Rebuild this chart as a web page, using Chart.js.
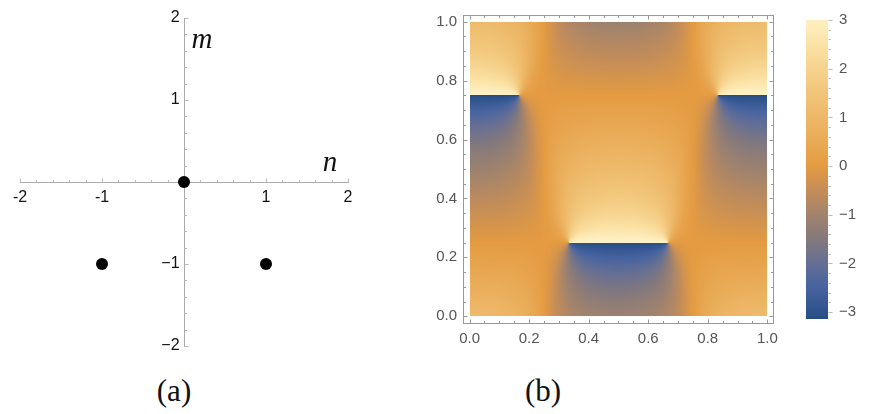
<!DOCTYPE html>
<html>
<head>
<meta charset="utf-8">
<script src="https://cdn.jsdelivr.net/npm/chart.js@4.4.0/dist/chart.umd.min.js"></script>
<style>
  html, body { margin: 0; padding: 0; background: #fff; width: 872px; height: 414px; overflow: hidden; }
  .box { position: absolute; }
  .cap { position: absolute; font-family: "Liberation Serif", serif; font-size: 31px; line-height: 31px; color: #111; transform: translateX(-50%); }
</style>
</head>
<body>
<div class="box" style="left:0;top:0;width:370px;height:360px"><canvas id="lattice"></canvas></div>
<div class="box" style="left:400px;top:0;width:400px;height:360px"><canvas id="phase"></canvas></div>
<div class="box" style="left:790px;top:0;width:82px;height:360px"><canvas id="legend"></canvas></div>
<div class="cap" style="left:174px;top:375px">(a)</div>
<div class="cap" style="left:543px;top:375px">(b)</div>
<script>
// panel (a): lattice points (n, m)
const N_VALUES = [0, -1, 1]
const M_VALUES = [0, -1, -1]
// complex weight of each point (real / imaginary part)
const WEIGHT_RE = [1, 0, 0]
const WEIGHT_IM = [0, 1, 1]

const AXIS_TICKS = [-2, -1, 1, 2]
const N_TICK_LABELS = ['-2', '-1', '1', '2']
const M_TICK_LABELS = ['\u22122', '\u22121', '1', '2']

// panel (b): unit cell axes and phase legend
const UNIT_TICKS = [0, 0.2, 0.4, 0.6, 0.8, 1]
const UNIT_TICK_LABELS = ['0.0', '0.2', '0.4', '0.6', '0.8', '1.0']
const PHASE_TICKS = [-3, -2, -1, 0, 1, 2, 3]
const PHASE_TICK_LABELS = ['\u22123', '\u22122', '\u22121', '0', '1', '2', '3']
const PHASE_MIN = -3.14
const PHASE_MAX = 3.0

// colour gradient (phase value -> rgb)
const STOP_VALUES = [-3.14, -3, -2.5, -2, -1.5, -1, -0.5, 0, 0.5, 1, 1.5, 2, 2.5, 3, 3.14]
const STOP_COLORS = [
  [40, 76, 130], [46, 82, 140], [70, 99, 160], [101, 111, 148], [133, 121, 124],
  [162, 131, 108], [196, 141, 88], [228, 155, 65], [233, 170, 86], [237, 184, 104],
  [241, 197, 121], [246, 211, 142], [251, 226, 166], [255, 240, 194], [255, 243, 200]
]

const TICK_FONT = { family: 'Liberation Sans', size: 16 }

function colorFor(v) {
  if (v <= STOP_VALUES[0]) return STOP_COLORS[0]
  for (let i = 1; i < STOP_VALUES.length; i++) {
    if (v <= STOP_VALUES[i]) {
      const t = (v - STOP_VALUES[i - 1]) / (STOP_VALUES[i] - STOP_VALUES[i - 1])
      const a = STOP_COLORS[i - 1], b = STOP_COLORS[i]
      return [a[0] + (b[0] - a[0]) * t, a[1] + (b[1] - a[1]) * t, a[2] + (b[2] - a[2]) * t]
    }
  }
  return STOP_COLORS[STOP_COLORS.length - 1]
}

// phase of the sum of plane waves of the lattice points
function phaseAt(x, y) {
  let re = 0, im = 0
  for (let k = 0; k < N_VALUES.length; k++) {
    const a = 2 * Math.PI * (N_VALUES[k] * x + M_VALUES[k] * y)
    const c = Math.cos(a), s = Math.sin(a)
    re += WEIGHT_RE[k] * c - WEIGHT_IM[k] * s
    im += WEIGHT_RE[k] * s + WEIGHT_IM[k] * c
  }
  return Math.atan2(im, re)
}

// small tick marks along a line: at = pixel of the line, dir = side
function tickMarks(ctx, scale, o) {
  ctx.save()
  ctx.strokeStyle = o.color
  ctx.lineWidth = 1
  ctx.beginPath()
  const k0 = Math.ceil(o.from / o.step - 1e-6), k1 = Math.floor(o.to / o.step + 1e-6)
  for (let k = k0; k <= k1; k++) {
    const v = k * o.step
    if (o.skip && o.skip.some(s => Math.abs(s - v) < 1e-6)) continue
    const major = o.major.some(m => Math.abs(m - v) < 1e-6)
    const len = major ? o.majorLen : o.minorLen
    const p = Math.round(scale.getPixelForValue(v)) + 0.5
    if (scale.isHorizontal()) {
      ctx.moveTo(p, o.at); ctx.lineTo(p, o.at + o.dir * len)
    } else {
      ctx.moveTo(o.at, p); ctx.lineTo(o.at + o.dir * len, p)
    }
  }
  ctx.stroke()
  ctx.restore()
}

// ---------- panel (a) ----------
const latticeTicks = {
  id: 'latticeTicks',
  afterDraw(chart) {
    const { ctx } = chart
    const xs = chart.scales.x, ys = chart.scales.y
    const ax = Math.round(ys.getPixelForValue(0)) + 0.5
    const ay = Math.round(xs.getPixelForValue(0)) + 0.5
    const o = { from: -2, to: 2, step: 0.2, major: AXIS_TICKS, skip: [0], majorLen: 4, minorLen: 2.5, color: '#bbb' }
    tickMarks(ctx, xs, { ...o, at: ax, dir: -1 })
    tickMarks(ctx, ys, { ...o, at: ay, dir: 1 })
    ctx.save()
    ctx.fillStyle = '#111'
    ctx.font = 'italic 29px "Liberation Serif"'
    ctx.textBaseline = 'alphabetic'
    ctx.textAlign = 'center'
    ctx.fillText('n', xs.getPixelForValue(1.78), ys.getPixelForValue(0.14))
    ctx.textAlign = 'left'
    ctx.fillText('m', xs.getPixelForValue(0.09), ys.getPixelForValue(1.63))
    ctx.restore()
  }
}

new Chart(document.getElementById('lattice'), {
  type: 'scatter',
  data: {
    datasets: [{
      data: N_VALUES.map((n, i) => ({ x: n, y: M_VALUES[i] })),
      backgroundColor: '#000',
      borderWidth: 0,
      pointRadius: 6,
      pointHoverRadius: 6
    }]
  },
  plugins: [latticeTicks],
  options: {
    animation: false,
    responsive: true,
    maintainAspectRatio: false,
    events: [],
    layout: { padding: { left: 20, top: 18, right: 22, bottom: 14 } },
    plugins: { legend: { display: false }, tooltip: { enabled: false } },
    scales: {
      x: {
        type: 'linear', min: -2, max: 2,
        position: { y: 0 },
        afterFit: s => { s.height = 0 },
        afterBuildTicks: s => { s.ticks = AXIS_TICKS.map(v => ({ value: v })) },
        grid: { drawOnChartArea: false, drawTicks: false },
        border: { color: '#aaa' },
        ticks: { callback: (v, i) => N_TICK_LABELS[i], padding: 6, font: TICK_FONT, color: '#111', maxRotation: 0, autoSkip: false }
      },
      y: {
        type: 'linear', min: -2, max: 2,
        position: { x: 0 },
        afterFit: s => { s.width = 0 },
        afterBuildTicks: s => { s.ticks = AXIS_TICKS.map(v => ({ value: v })) },
        grid: { drawOnChartArea: false, drawTicks: false },
        border: { color: '#aaa' },
        // a centred axis ignores ticks.padding, so keep a space after the label
        ticks: { callback: (v, i) => M_TICK_LABELS[i] + ' ', font: TICK_FONT, color: '#111', autoSkip: false }
      }
    }
  }
})

// ---------- panel (b) ----------
const phaseField = {
  id: 'phaseField',
  beforeDatasetsDraw(chart) {
    const { ctx } = chart
    const xs = chart.scales.x, ys = chart.scales.y
    const x0 = Math.round(xs.getPixelForValue(0)), x1 = Math.round(xs.getPixelForValue(1))
    const y0 = Math.round(ys.getPixelForValue(1)), y1 = Math.round(ys.getPixelForValue(0))
    const w = x1 - x0, h = y1 - y0
    const off = document.createElement('canvas')
    off.width = w; off.height = h
    const octx = off.getContext('2d')
    const img = octx.createImageData(w, h)
    for (let py = 0; py < h; py++) {
      const vy = ys.getValueForPixel(y0 + py + 0.5)
      for (let px = 0; px < w; px++) {
        const vx = xs.getValueForPixel(x0 + px + 0.5)
        const c = colorFor(phaseAt(vx, vy))
        const j = (py * w + px) * 4
        img.data[j] = c[0]; img.data[j + 1] = c[1]; img.data[j + 2] = c[2]; img.data[j + 3] = 255
      }
    }
    octx.putImageData(img, 0, 0)
    ctx.drawImage(off, x0, y0)
  },
  afterDraw(chart) {
    const { ctx, chartArea: a } = chart
    const xs = chart.scales.x, ys = chart.scales.y
    ctx.save()
    ctx.strokeStyle = '#999'
    ctx.lineWidth = 1
    ctx.strokeRect(Math.round(a.left) + 0.5, Math.round(a.top) + 0.5, Math.round(a.right - a.left), Math.round(a.bottom - a.top))
    ctx.restore()
    const o = { from: 0, to: 1, step: 0.05, major: UNIT_TICKS, majorLen: 4, minorLen: 2.5, color: '#999' }
    tickMarks(ctx, xs, { ...o, at: Math.round(a.bottom) + 0.5, dir: -1 })
    tickMarks(ctx, xs, { ...o, at: Math.round(a.top) + 0.5, dir: 1 })
    tickMarks(ctx, ys, { ...o, at: Math.round(a.left) + 0.5, dir: 1 })
    tickMarks(ctx, ys, { ...o, at: Math.round(a.right) + 0.5, dir: -1 })
  }
}

new Chart(document.getElementById('phase'), {
  type: 'scatter',
  data: { datasets: [] },
  plugins: [phaseField],
  options: {
    animation: false,
    responsive: true,
    maintainAspectRatio: false,
    events: [],
    layout: { padding: { left: 0, top: 13, right: 27, bottom: 7 } },
    plugins: { legend: { display: false }, tooltip: { enabled: false } },
    scales: {
      x: {
        type: 'linear', min: -0.022, max: 1.019,
        afterFit: s => { s.height = 30 },
        afterBuildTicks: s => { s.ticks = UNIT_TICKS.map(v => ({ value: v })) },
        grid: { display: false, drawTicks: false },
        border: { display: false },
        ticks: { callback: (v, i) => UNIT_TICK_LABELS[i], padding: 7, font: { family: 'Liberation Sans', size: 15 }, color: '#555', maxRotation: 0, autoSkip: false }
      },
      y: {
        type: 'linear', min: -0.023, max: 1.023,
        afterFit: s => { s.width = 63 },
        afterBuildTicks: s => { s.ticks = UNIT_TICKS.map(v => ({ value: v })) },
        grid: { display: false, drawTicks: false },
        border: { display: false },
        ticks: { callback: (v, i) => UNIT_TICK_LABELS[i], padding: 6, font: { family: 'Liberation Sans', size: 15 }, color: '#555', autoSkip: false }
      }
    }
  }
})

// ---------- phase legend ----------
const legendTicks = {
  id: 'legendTicks',
  afterDraw(chart) {
    const a = chart.chartArea
    tickMarks(chart.ctx, chart.scales.y, { from: PHASE_MIN, to: PHASE_MAX, step: 0.2, major: PHASE_TICKS, majorLen: 4, minorLen: 2.5, color: '#bbb', at: Math.round(a.right) + 0.5, dir: 1 })
  }
}

new Chart(document.getElementById('legend'), {
  type: 'bar',
  data: {
    labels: [''],
    datasets: [{
      data: [[PHASE_MIN, PHASE_MAX]],
      borderWidth: 0,
      barPercentage: 1,
      categoryPercentage: 1,
      backgroundColor: ctx => {
        const chart = ctx.chart
        const ys = chart.scales.y
        if (!chart.chartArea || !ys) return '#e39b42'
        const yb = ys.getPixelForValue(PHASE_MIN), yt = ys.getPixelForValue(PHASE_MAX)
        const g = chart.ctx.createLinearGradient(0, yb, 0, yt)
        STOP_VALUES.forEach((v, i) => {
          const t = Math.min(1, Math.max(0, (v - PHASE_MIN) / (PHASE_MAX - PHASE_MIN)))
          const c = STOP_COLORS[i]
          g.addColorStop(t, `rgb(${c[0] | 0},${c[1] | 0},${c[2] | 0})`)
        })
        return g
      }
    }]
  },
  plugins: [legendTicks],
  options: {
    animation: false,
    responsive: true,
    maintainAspectRatio: false,
    events: [],
    layout: { padding: { left: 16, top: 20, right: 0, bottom: 41 } },
    plugins: { legend: { display: false }, tooltip: { enabled: false } },
    scales: {
      x: { display: false },
      y: {
        position: 'right',
        min: PHASE_MIN, max: PHASE_MAX,
        afterFit: s => { s.width = 44 },
        afterBuildTicks: s => { s.ticks = PHASE_TICKS.map(v => ({ value: v })) },
        grid: { display: false, drawTicks: false },
        border: { display: false },
        ticks: { callback: (v, i) => PHASE_TICK_LABELS[i], padding: 11, font: { family: 'Liberation Sans', size: 15 }, color: '#555', autoSkip: false }
      }
    }
  }
})
</script>
</body>
</html>
